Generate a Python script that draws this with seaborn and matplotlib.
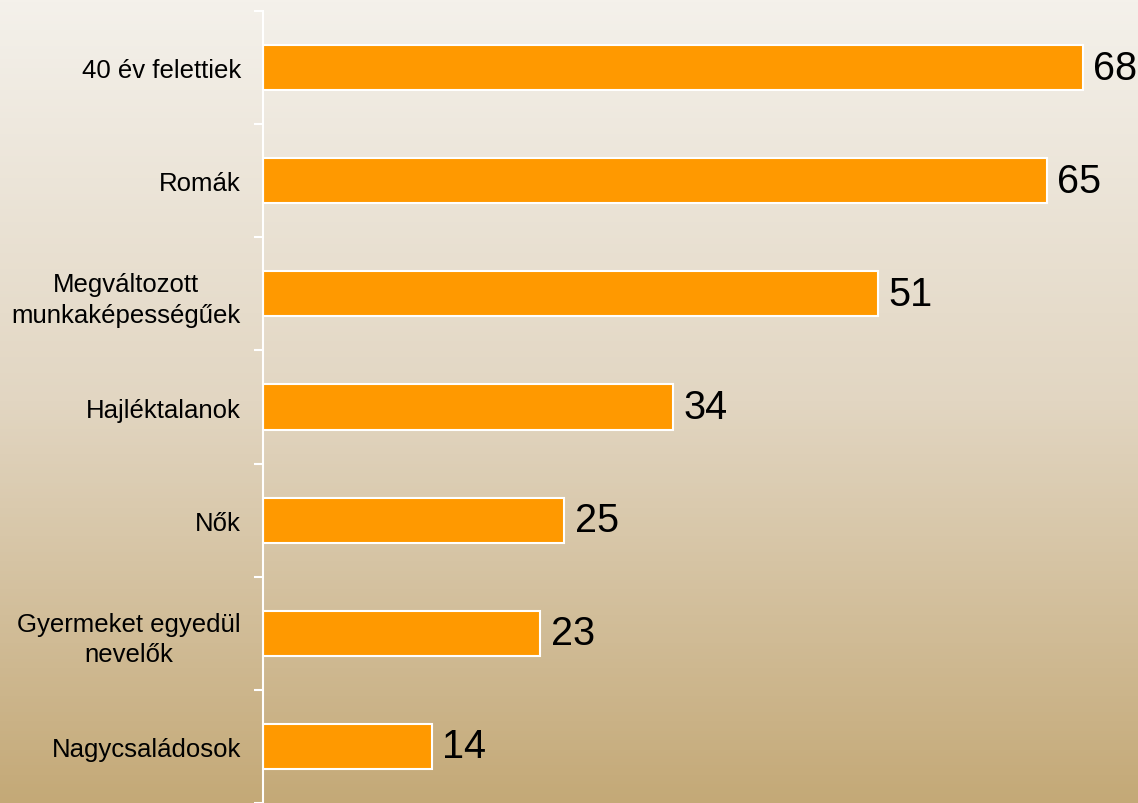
import numpy as np
import pandas as pd
import matplotlib
matplotlib.use("Agg")
import matplotlib.pyplot as plt
import seaborn as sns
from matplotlib.colors import LinearSegmentedColormap

categories = ["40 év felettiek", "Romák", "Megváltozott\nmunkaképességűek",
              "Hajléktalanok", "Nők", "Gyermeket egyedül\nnevelők", "Nagycsaládosok"]
values = [68, 65, 51, 34, 25, 23, 14]

sns.set_theme(style="white")
plt.rcParams['font.family'] = ['Liberation Sans', 'DejaVu Sans']

df = pd.DataFrame({"cat": categories, "val": values})

fig = plt.figure(figsize=(11.38, 8.04), dpi=100)

# background gradient
ax_bg = fig.add_axes([0, 0, 1, 1], zorder=0)
cmap = LinearSegmentedColormap.from_list("bg", ["#F4F1EB", "#E2D6C2", "#C4A977"])
grad = np.linspace(0, 1, 256).reshape(-1, 1)
ax_bg.imshow(grad, aspect="auto", cmap=cmap, extent=[0, 1, 0, 1], origin="upper")
ax_bg.set_axis_off()

ax = fig.add_axes([263 / 1138, 0, 1 - 263 / 1138, 792 / 804], zorder=1)
ax.set_facecolor("none")

sns.barplot(data=df, y="cat", x="val", orient="h", color="#FF9900", width=0.4,
            edgecolor="white", linewidth=1.5, saturation=1, ax=ax)

ax.set_xlim(0, (1138 - 263) / (820 / 68))
ax.set_ylim(len(categories) - 0.5, -0.5)
ax.set_xlabel("")
ax.set_ylabel("")
ax.set_xticks([])

for s in ["top", "right", "bottom"]:
    ax.spines[s].set_visible(False)
ax.spines["left"].set_color("white")
ax.spines["left"].set_linewidth(1.5)

ax.set_yticks(range(len(categories)))
ax.set_yticklabels(categories, fontsize=18.5, color="black",
                   multialignment="center", linespacing=1.35)
ax.tick_params(axis="y", which="major", left=True, length=0, pad=16)
ax.set_yticks(np.arange(-0.5, len(categories), 1), minor=True)
ax.tick_params(axis="y", which="minor", left=True, length=6.5, width=1.5,
               color="white", direction="out")

for c in ax.containers:
    ax.bar_label(c, labels=[str(v) for v in values], padding=7.5, fontsize=28.5, color="black")

fig.savefig("out.png", dpi=100)
